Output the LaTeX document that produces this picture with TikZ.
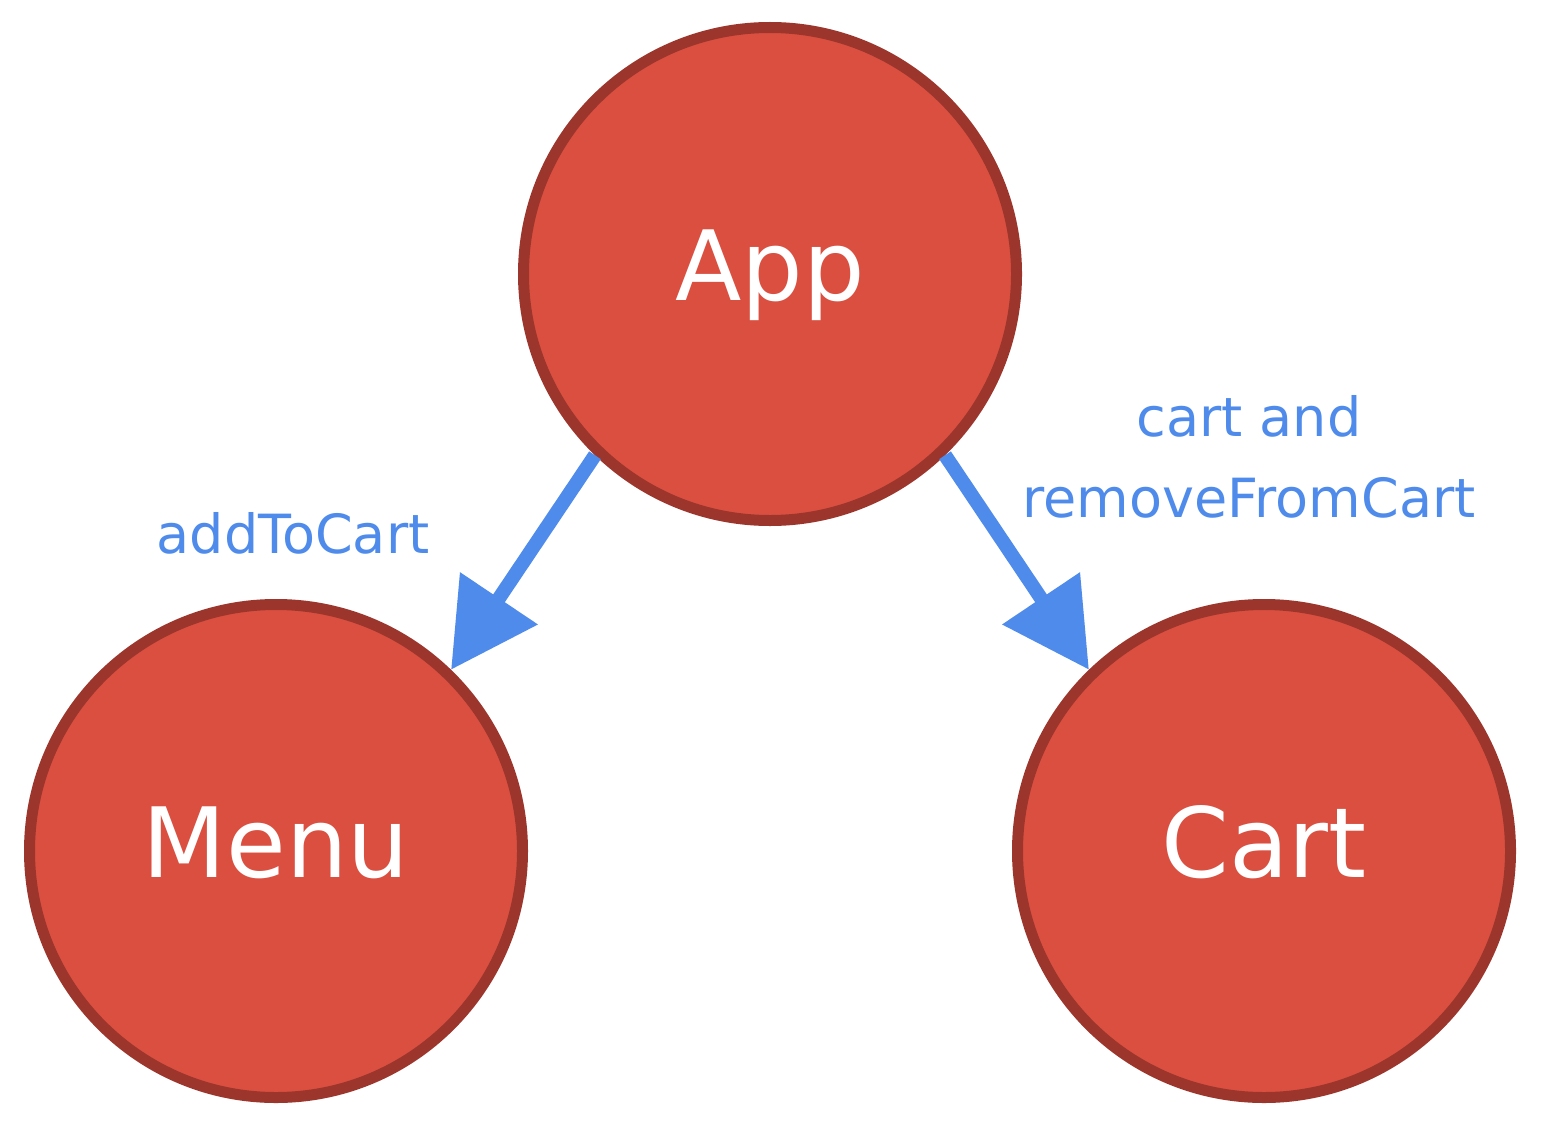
\documentclass[tikz,border=0pt]{standalone}
\usepackage{fontspec}
\setmainfont{DejaVu Sans}
\usetikzlibrary{arrows.meta}
\definecolor{nodefill}{RGB}{219,79,64}
\definecolor{nodeline}{RGB}{156,54,44}
\definecolor{arrblue}{RGB}{79,139,235}
\tikzset{
  comp/.style={circle, draw=nodeline, fill=nodefill, line width=11pt, inner sep=0pt,
    minimum size=493pt, text=white, font=\fontsize{97}{100}\selectfont,
    text height=69pt, text depth=17pt},
  flow/.style={draw=arrblue, line width=14pt, -{Triangle[length=86pt,width=90pt]}},
  lbl/.style={text=arrblue, font=\fontsize{54}{81}\selectfont, align=center, inner sep=0pt}
}
\begin{document}
\begin{tikzpicture}[x=1pt,y=-1pt]
\useasboundingbox[fill=white] (0,0) rectangle (1546,1134);
\node[comp] (App) at (770,274) {App};
\node[comp] (Menu) at (276,851) {Menu};
\node[comp] (Cart) at (1264,851) {Cart};
\draw[flow] (App.226) -- (Menu.46);
\draw[flow] (App.314) -- (Cart.134);
\node[lbl, anchor=base] (l1) at (293,553) {addToCart};
\node[lbl] (l2) at (1249,457) {cart and\\removeFromCart};
\end{tikzpicture}
\end{document}
